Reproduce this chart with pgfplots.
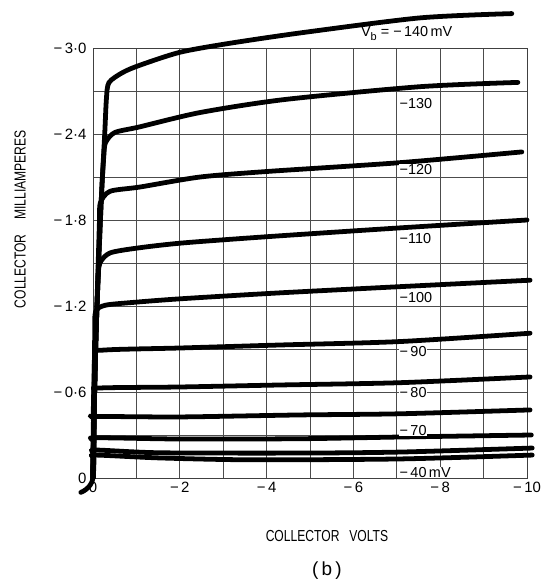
\documentclass[border=0pt]{standalone}
\usepackage{fontspec}
\setmainfont{Liberation Sans}
\usepackage{pgfplots}
\pgfplotsset{compat=1.18}
\tikzset{lbl/.style={anchor=west, fill=white, inner sep=0.5pt, font=\fontsize{14.5}{16}\selectfont}}
\pgfplotsset{crv/.style={black, no markers, line width=4.8pt, line cap=round, line join=round, smooth, tension=0.45}}

\begin{document}
\begin{tikzpicture}
\path[use as bounding box] (-93bp,-104bp) rectangle (452bp,478bp);
\begin{axis}[
  scale only axis, width=434bp, height=430bp,
  x dir=reverse, y dir=reverse,
  xmin=-10, xmax=0, ymin=-3, ymax=0,
  clip=false,
  axis line style={black!75, line width=0.8pt},
  xtick={0,-2,-4,-6,-8,-10},
  xticklabels={0,−\,2,−\,4,−\,6,−\,8,−\,10},
  ytick={0,-0.6,-1.2,-1.8,-2.4,-3.0},
  yticklabels={0,−\,0·6,−\,1·2,−\,1·8,−\,2·4,−\,3·0},
  minor x tick num=1, minor y tick num=1,
  major tick length=0pt, minor tick length=0pt,
  grid=both,
  major grid style={black!70, line width=0.7pt},
  minor grid style={black!70, line width=0.7pt},
  ticklabel style={font=\fontsize{15}{17}\selectfont},
  xticklabel style={yshift=-1pt},
  yticklabel style={xshift=-3pt},
  every axis x label/.style={at={(axis description cs:0.539,-0.135)}, anchor=center},
  every axis y label/.style={at={(axis description cs:-0.168,0.602)}, rotate=90, anchor=center},
  xlabel={\fontsize{16}{18}\selectfont\scalebox{0.76}[1]{COLLECTOR\hspace{0.8em}VOLTS}},
  ylabel={\fontsize{16}{18}\selectfont\scalebox{0.76}[1]{COLLECTOR\hspace{1.2em}MILLIAMPERES}},
]
% -140 mV
\addplot[crv] coordinates {(0.28,0.1) (0,0) (-0.03,-0.5) (-0.07,-1.0) (-0.13,-1.5) (-0.2,-2.0) (-0.27,-2.4) (-0.31,-2.65) (-0.37,-2.76) (-0.69,-2.83) (-1.08,-2.88) (-2.0,-2.97) (-3.09,-3.03) (-4.77,-3.105) (-7.53,-3.21) (-9.65,-3.24)};
% -130 mV
\addplot[crv] coordinates {(0,0) (-0.03,-0.5) (-0.07,-1.0) (-0.13,-1.5) (-0.2,-2.0) (-0.25,-2.25) (-0.29,-2.34) (-0.5,-2.41) (-1.08,-2.45) (-2.47,-2.55) (-4.4,-2.64) (-7.53,-2.73) (-9.79,-2.76)};
% -120 mV
\addplot[crv] coordinates {(0,0) (-0.03,-0.5) (-0.07,-1.0) (-0.12,-1.5) (-0.15,-1.8) (-0.17,-1.92) (-0.39,-2.0) (-1.08,-2.03) (-2.47,-2.10) (-4.08,-2.14) (-7.07,-2.20) (-9.88,-2.275)};
% -110 mV
\addplot[crv] coordinates {(0,0) (-0.03,-0.5) (-0.07,-1.0) (-0.12,-1.4) (-0.16,-1.50) (-0.39,-1.57) (-1.04,-1.605) (-2.07,-1.64) (-4.08,-1.685) (-7.07,-1.745) (-10.0,-1.80)};
% -100 mV
\addplot[crv] coordinates {(0,0) (-0.02,-0.5) (-0.04,-1.0) (-0.06,-1.16) (-0.28,-1.205) (-0.92,-1.225) (-2.0,-1.25) (-4.2,-1.29) (-7.07,-1.335) (-10.07,-1.38)};
% -90 mV
\addplot[crv] coordinates {(0,0) (-0.02,-0.5) (-0.05,-0.858) (-0.28,-0.893) (-2.0,-0.907) (-4.31,-0.928) (-7.07,-0.952) (-10.07,-1.01)};
% -80 mV
\addplot[crv] coordinates {(0,0) (-0.01,-0.3) (-0.02,-0.6) (-0.16,-0.628) (-2.0,-0.635) (-4.31,-0.649) (-7.07,-0.665) (-10.07,-0.705)};
% -70 mV
\addplot[crv] coordinates {(0,0) (-0.01,-0.4) (-0.05,-0.428) (-2.0,-0.426) (-4.77,-0.44) (-7.07,-0.448) (-10.07,-0.475)};
% -60 mV
\addplot[crv] coordinates {(0,0) (-0.01,-0.25) (-0.05,-0.28) (-2.0,-0.272) (-4.77,-0.274) (-7.07,-0.286) (-10.1,-0.30)};
% -50 mV
\addplot[crv] coordinates {(0,0) (-0.01,-0.17) (-0.05,-0.195) (-1.54,-0.176) (-4.77,-0.174) (-7.07,-0.181) (-10.12,-0.209)};
% -40 mV
\addplot[crv] coordinates {(0,0) (-0.01,-0.14) (-0.05,-0.16) (-1.54,-0.14) (-3.62,-0.127) (-7.07,-0.133) (-10.12,-0.16)};

\node[anchor=west, inner sep=1pt, font=\fontsize{14.5}{16}\selectfont] at (axis cs:-6.15,-3.10) {V\raisebox{-0.45ex}{\fontsize{11}{11}\selectfont b}\;=\;−\,140\,mV};
\node[lbl] at (axis cs:-7.05,-2.616) {−130};
\node[lbl] at (axis cs:-7.05,-2.149) {−120};
\node[lbl] at (axis cs:-7.05,-1.674) {−110};
\node[lbl] at (axis cs:-7.05,-1.256) {−100};
\node[lbl] at (axis cs:-7.05,-0.879) {−\,90};
\node[lbl] at (axis cs:-7.05,-0.593) {−\,80};
\node[lbl] at (axis cs:-7.05,-0.33) {−\,70};
\node[lbl] at (axis cs:-7.05,-0.04) {−\,40\,mV};
\node[font=\fontsize{19}{21}\selectfont] at (axis description cs:0.539,-0.216) {(\,b\,)};
\end{axis}
\end{tikzpicture}
\end{document}
